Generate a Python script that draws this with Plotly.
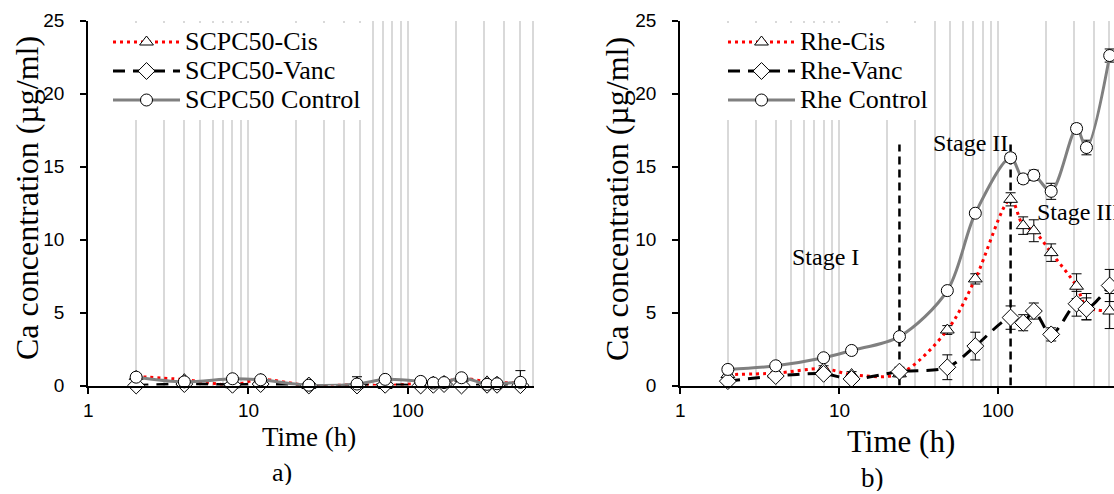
import math
import plotly.graph_objects as go

# Sampling times (h)
time_h = [2, 4, 8, 12, 24, 48, 72, 120, 144, 168, 216, 312, 360, 504]

# a) SCPC50 series (Ca, µg/ml)
scpc_cis = [0.62, 0.4, 0.05, 0.42, 0.0, 0.05, 0.0, 0.15, 0.22, 0.25, 0.5, 0.25, 0.2, 0.2]
scpc_cis_err = [0.1, 0.1, 0.15, 0.1, 0.1, 0.1, 0.15, 0.1, 0.1, 0.1, 0.1, 0.1, 0.1, 0.1]
scpc_vanc = [0.0, 0.1, 0.05, 0.1, 0.0, 0.0, 0.05, 0.0, 0.05, 0.1, 0.0, 0.05, 0.05, 0.02]
scpc_vanc_err = [0.05, 0.1, 0.1, 0.1, 0.05, 0.05, 0.05, 0.1, 0.05, 0.05, 0.05, 0.05, 0.05, 0.05]
scpc_control = [0.57, 0.25, 0.46, 0.39, 0.02, 0.1, 0.42, 0.28, 0.17, 0.2, 0.53, 0.08, 0.12, 0.22]
scpc_control_err = [0.1, 0.1, 0.1, 0.1, 0.05, 0.5, 0.1, 0.1, 0.1, 0.1, 0.1, 0.1, 0.1, 0.8]

# b) Rhe series (Ca, µg/ml)
rhe_cis = [0.75, 0.85, 1.15, 0.75, 0.8, 3.8, 7.3, 12.75, 10.95, 10.6, 9.1, 6.8, 5.4, 5.1]
rhe_cis_err = [0.1, 0.1, 0.2, 0.2, 0.2, 0.3, 0.35, 0.45, 0.6, 0.75, 0.6, 0.85, 0.9, 1.2]
rhe_vanc = [0.3, 0.65, 0.8, 0.45, 0.95, 1.25, 2.7, 4.65, 4.3, 5.1, 3.5, 5.6, 5.25, 6.85]
rhe_vanc_err = [0.1, 0.2, 0.25, 0.2, 0.3, 0.85, 0.95, 0.8, 0.55, 0.55, 0.45, 0.85, 0.75, 1.1]
rhe_control = [1.1, 1.35, 1.9, 2.4, 3.35, 6.5, 11.8, 15.6, 14.15, 14.4, 13.3, 17.6, 16.3, 22.6]
rhe_control_err = [0.1, 0.1, 0.1, 0.1, 0.15, 0.15, 0.2, 0.3, 0.3, 0.35, 0.55, 0.3, 0.5, 0.45]

# Axis ticks
x_tick_vals = [1, 10, 100]
x_tick_text = ["1", "10", "100"]

# Stage boundaries in panel b)
stage_bounds_h = [24, 120]
stage_line_top = 16.5
stage_labels = [
    ("Stage I", 8.2, 8.8, "center"),
    ("Stage II", 67, 16.6, "center"),
    ("Stage III", 170, 11.85, "left"),
]

W, H = 1114, 494
SERIF = "Liberation Serif"
SANS = "Liberation Sans"


def pxx(p):
    return p / W


def pxy(p):
    return 1 - p / H


def big(name):
    return '<span style="font-size:26px">' + name + '</span>'


fig = go.Figure()

styles = [
    dict(line=dict(color="#ff0000", width=3, dash="3px,4px"),
         marker=dict(symbol="triangle-up", size=12, color="white", line=dict(color="black", width=1))),
    dict(line=dict(color="black", width=3, dash="12px,8px"),
         marker=dict(symbol="diamond", size=13, color="white", line=dict(color="black", width=1))),
    dict(line=dict(color="#808080", width=3),
         marker=dict(symbol="circle", size=12, color="white", line=dict(color="black", width=1))),
]

panels = [
    ("x", "y", "legend",
     [("SCPC50-Cis", scpc_cis, scpc_cis_err),
      ("SCPC50-Vanc", scpc_vanc, scpc_vanc_err),
      ("SCPC50 Control", scpc_control, scpc_control_err)]),
    ("x2", "y2", "legend2",
     [("Rhe-Cis", rhe_cis, rhe_cis_err),
      ("Rhe-Vanc", rhe_vanc, rhe_vanc_err),
      ("Rhe Control", rhe_control, rhe_control_err)]),
]

for xa, ya, leg, series in panels:
    if xa == "x2":
        for tb in stage_bounds_h:
            fig.add_trace(go.Scatter(
                x=[tb, tb], y=[0, stage_line_top], mode="lines",
                line=dict(color="black", width=2.5, dash="8px,5px"),
                showlegend=False, hoverinfo="skip", xaxis=xa, yaxis=ya))
    for (name, vals, err), st in zip(series, styles):
        fig.add_trace(go.Scatter(
            x=time_h, y=vals, name=big(name), mode="lines+markers",
            line=dict(shape="spline", smoothing=0.9, **st["line"]),
            marker=st["marker"],
            error_y=dict(type="data", array=err, color="black", thickness=1, width=5),
            cliponaxis=False, xaxis=xa, yaxis=ya, legend=leg))

grid = "#d9d9d9"


def xaxis(domain, rng, anchor):
    # tick labels are written as annotations below, to sit lower under the axis
    return dict(
        type="log", range=rng, domain=domain, anchor=anchor,
        tickmode="array", tickvals=x_tick_vals, showticklabels=False,
        showline=True, linecolor="black", linewidth=1.5,
        ticks="outside", ticklen=7, tickwidth=1.5, tickcolor="black",
        showgrid=True, gridcolor=grid, gridwidth=1.5,
        minor=dict(dtick="D1", showgrid=True, gridcolor=grid, gridwidth=1.5, ticks=""),
        zeroline=False,
    )


def yaxis(domain, anchor):
    return dict(
        range=[0, 25], dtick=5, domain=domain, anchor=anchor,
        showline=True, linecolor="black", linewidth=1.5,
        ticks="outside", ticklen=6, tickwidth=1.5, tickcolor="black",
        showgrid=False, zeroline=False,
        tickfont=dict(family=SANS, size=19, color="black"),
        ticklabelstandoff=12,
    )


ydom = [pxy(385.5), pxy(20.5)]

legend_common = dict(
    font=dict(family=SERIF, size=20, color="black"),
    bgcolor="white", borderwidth=0, itemwidth=67,
    xanchor="left", yanchor="top", tracegroupgap=0,
)

annotations = [
    dict(text="Ca concentration (µg/ml)", x=pxx(27), y=pxy(198), textangle=-90,
         font=dict(family=SERIF, size=32, color="black")),
    dict(text="Ca concentration (µg/ml)", x=pxx(617), y=pxy(199), textangle=-90,
         font=dict(family=SERIF, size=32, color="black")),
    dict(text="Time (h)", x=pxx(309), y=pxy(437),
         font=dict(family=SERIF, size=27, color="black")),
    dict(text="Time (h)", x=pxx(901), y=pxy(441),
         font=dict(family=SERIF, size=31, color="black")),
    dict(text="a)", x=pxx(282), y=pxy(472), height=26,
         font=dict(family=SERIF, size=26, color="black")),
    dict(text="b)", x=pxx(872), y=pxy(478), height=26,
         font=dict(family=SERIF, size=27, color="black")),
]
for a in annotations:
    a.update(xref="paper", yref="paper", showarrow=False, xanchor="center", yanchor="middle")

# x tick labels for both log axes
for xref in ("x", "x2"):
    for v, t in zip(x_tick_vals, x_tick_text):
        annotations.append(dict(
            text=t, x=math.log10(v), y=pxy(410), xref=xref, yref="paper",
            showarrow=False, xanchor="center", yanchor="middle",
            font=dict(family=SANS, size=19, color="black")))

for txt, xv, yv, anc in stage_labels:
    annotations.append(dict(
        text=txt, x=math.log10(xv), y=yv, xref="x2", yref="y2",
        showarrow=False, xanchor=anc, yanchor="middle",
        font=dict(family=SERIF, size=24, color="black")))

fig.update_layout(
    width=W, height=H,
    margin=dict(l=0, r=0, t=0, b=0, autoexpand=False),
    paper_bgcolor="white", plot_bgcolor="white",
    showlegend=True,
    xaxis=xaxis([pxx(88), pxx(534)], [0, 446 / 160], "y"),
    yaxis=yaxis(ydom, "x"),
    xaxis2=xaxis([pxx(680), 1.0], [0, 434 / 159], "y2"),
    yaxis2=yaxis(ydom, "x2"),
    legend=dict(x=pxx(108), y=pxy(22.5), **legend_common),
    legend2=dict(x=pxx(723), y=pxy(22.5), **legend_common),
    annotations=annotations,
)

fig.write_html("out.html")
